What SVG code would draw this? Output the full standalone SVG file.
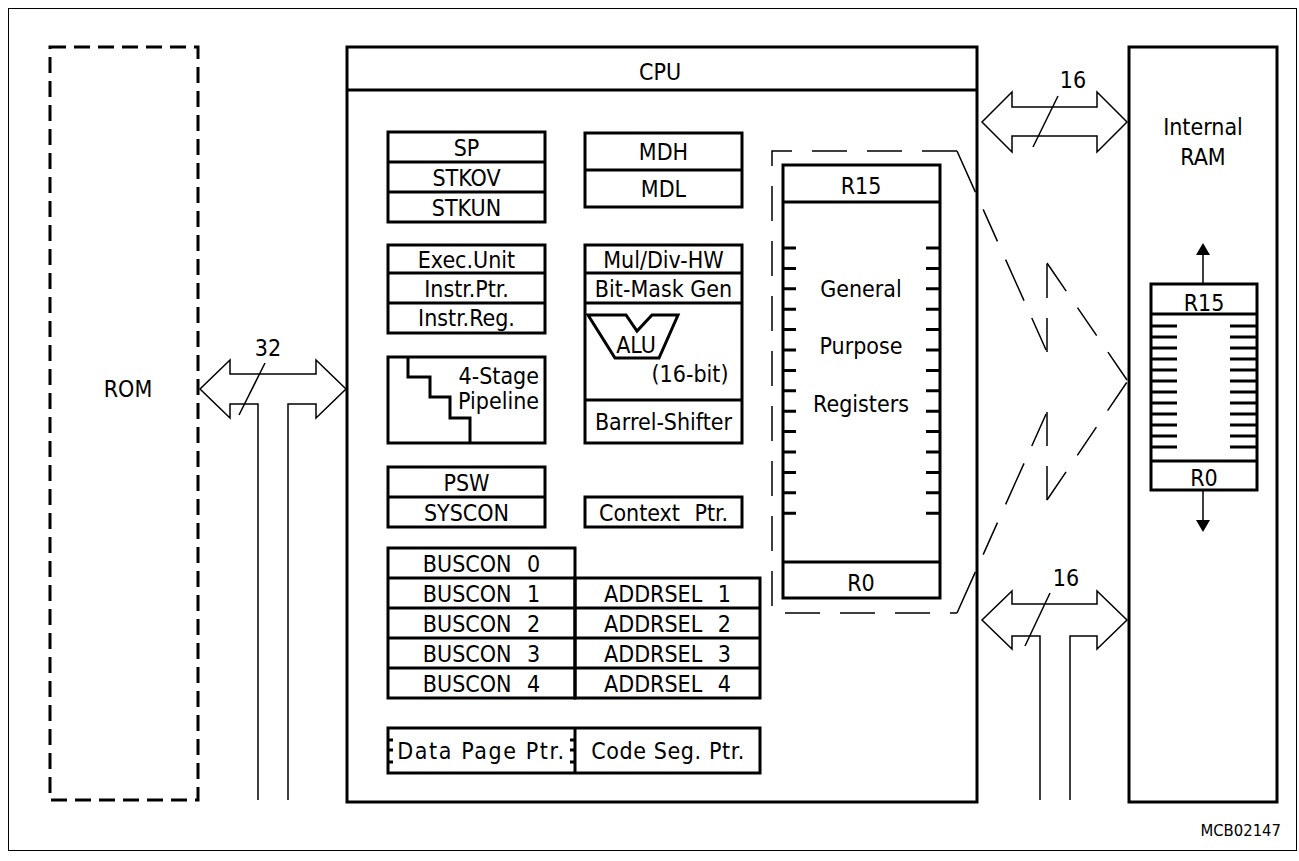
<svg xmlns="http://www.w3.org/2000/svg" width="1299" height="861" viewBox="0 0 1299 861">
<style>
.t{font-family:"DejaVu Sans Condensed","DejaVu Sans","Liberation Sans",sans-serif;font-stretch:condensed;font-size:23px;fill:#000;text-anchor:middle}
.s{font-size:16.5px}
.box{fill:none;stroke:#000;stroke-width:3}
.ln{fill:none;stroke:#000;stroke-width:3}
.thin{fill:none;stroke:#000;stroke-width:1.5}
.dash{fill:none;stroke:#000;stroke-width:1.5;stroke-dasharray:35 20}
.tick{stroke:#000;stroke-width:3}
</style>
<rect width="1299" height="861" fill="#fff"/>
<rect x="8.5" y="8.5" width="1288" height="842" fill="none" stroke="#000" stroke-width="1"/>

<g id="rom">
<rect x="50" y="47" width="148" height="753" fill="none" stroke="#000" stroke-width="3" stroke-dasharray="16 8"/>
<text class="t" x="128" y="397">ROM</text>
</g>

<g id="cpu">
<rect class="box" x="347" y="47" width="630" height="755"/>
<line class="ln" x1="347" y1="90" x2="977" y2="90"/>
<text class="t" x="660" y="80">CPU</text>
</g>

<g id="ram">
<rect class="box" x="1129" y="47" width="148" height="755"/>
<text class="t" x="1203" y="135">Internal</text>
<text class="t" x="1203" y="165">RAM</text>
</g>

<g id="sp">
<rect class="box" x="388" y="132" width="157" height="90"/>
<line class="ln" x1="388" y1="162" x2="545" y2="162"/>
<line class="ln" x1="388" y1="192" x2="545" y2="192"/>
<text class="t" x="466.5" y="156">SP</text>
<text class="t" x="466.5" y="186">STKOV</text>
<text class="t" x="466.5" y="216">STKUN</text>
</g>

<g id="md">
<rect class="box" x="585" y="133" width="157" height="74"/>
<line class="ln" x1="585" y1="170" x2="742" y2="170"/>
<text class="t" x="663.5" y="160">MDH</text>
<text class="t" x="663.5" y="197">MDL</text>
</g>

<g id="exec">
<rect class="box" x="388" y="245" width="157" height="88"/>
<line class="ln" x1="388" y1="273" x2="545" y2="273"/>
<line class="ln" x1="388" y1="303" x2="545" y2="303"/>
<text class="t" x="466.5" y="268">Exec.Unit</text>
<text class="t" x="466.5" y="297">Instr.Ptr.</text>
<text class="t" x="466.5" y="326">Instr.Reg.</text>
</g>

<g id="pipeline">
<rect class="box" x="388" y="357" width="157" height="86"/>
<path class="ln" d="M408,357 V377 H430 V397 H450 V418 H470 V443"/>
<text class="t" x="539" y="384" style="text-anchor:end">4-Stage</text>
<text class="t" x="539" y="409" style="text-anchor:end">Pipeline</text>
</g>

<g id="alu">
<rect class="box" x="585" y="245" width="157" height="198"/>
<line class="ln" x1="585" y1="273" x2="742" y2="273"/>
<line class="ln" x1="585" y1="303" x2="742" y2="303"/>
<line class="ln" x1="585" y1="400" x2="742" y2="400"/>
<text class="t" x="663.5" y="268">Mul/Div-HW</text>
<text class="t" x="663.5" y="297">Bit-Mask Gen</text>
<path class="ln" d="M588,315 H626 L637,331 L652,315 H678 L659,358 H615 Z" stroke-linejoin="miter"/>
<text class="t" x="636" y="353">ALU</text>
<text class="t" x="690" y="382">(16-bit)</text>
<text class="t" x="663.5" y="430">Barrel-Shifter</text>
</g>

<g id="psw">
<rect class="box" x="388" y="467" width="157" height="60"/>
<line class="ln" x1="388" y1="497" x2="545" y2="497"/>
<text class="t" x="466.5" y="491">PSW</text>
<text class="t" x="466.5" y="521">SYSCON</text>
</g>

<g id="context">
<rect class="box" x="585" y="497" width="157" height="30"/>
<text class="t" x="663.5" y="521" word-spacing="8">Context Ptr.</text>
</g>

<g id="buscon">
<rect class="box" x="388" y="548" width="187" height="150"/>
<line class="ln" x1="388" y1="578" x2="575" y2="578"/>
<line class="ln" x1="388" y1="608" x2="575" y2="608"/>
<line class="ln" x1="388" y1="638" x2="575" y2="638"/>
<line class="ln" x1="388" y1="668" x2="575" y2="668"/>
<text class="t" x="481.5" y="572" word-spacing="9">BUSCON 0</text>
<text class="t" x="481.5" y="602" word-spacing="9">BUSCON 1</text>
<text class="t" x="481.5" y="632" word-spacing="9">BUSCON 2</text>
<text class="t" x="481.5" y="662" word-spacing="9">BUSCON 3</text>
<text class="t" x="481.5" y="692" word-spacing="9">BUSCON 4</text>
</g>

<g id="addrsel">
<rect class="box" x="575" y="578" width="185" height="120"/>
<line class="ln" x1="575" y1="608" x2="760" y2="608"/>
<line class="ln" x1="575" y1="638" x2="760" y2="638"/>
<line class="ln" x1="575" y1="668" x2="760" y2="668"/>
<text class="t" x="667.5" y="602" word-spacing="9">ADDRSEL 1</text>
<text class="t" x="667.5" y="632" word-spacing="9">ADDRSEL 2</text>
<text class="t" x="667.5" y="662" word-spacing="9">ADDRSEL 3</text>
<text class="t" x="667.5" y="692" word-spacing="9">ADDRSEL 4</text>
</g>

<g id="ptrs">
<rect class="box" x="388" y="728" width="372" height="45"/>
<line class="ln" x1="575" y1="728" x2="575" y2="773"/>
<path class="tick" d="M388,740 h5 M388,750 h5 M388,762 h5 M575,740 h-5 M575,750 h-5 M575,762 h-5"/>
<text class="t" x="481.5" y="759" letter-spacing="1.6">Data Page Ptr.</text>
<text class="t" x="668" y="759" letter-spacing="0.6">Code Seg. Ptr.</text>
</g>

<g id="gpr">
<rect class="box" x="783" y="165" width="157" height="433"/>
<line class="ln" x1="783" y1="202" x2="940" y2="202"/>
<line class="ln" x1="783" y1="562" x2="940" y2="562"/>
<path class="tick" d="M783,248h13M783,268.4h13M783,288.8h13M783,309.2h13M783,329.6h13M783,350h13M783,370.4h13M783,390.8h13M783,411.2h13M783,431.6h13M783,452h13M783,472.4h13M783,492.8h13M783,513.2h13
M940,248h-14M940,268.4h-14M940,288.8h-14M940,309.2h-14M940,329.6h-14M940,350h-14M940,370.4h-14M940,390.8h-14M940,411.2h-14M940,431.6h-14M940,452h-14M940,472.4h-14M940,492.8h-14M940,513.2h-14"/>
<text class="t" x="861" y="194">R15</text>
<text class="t" x="861" y="297">General</text>
<text class="t" x="861" y="354">Purpose</text>
<text class="t" x="861" y="412">Registers</text>
<text class="t" x="861" y="591">R0</text>
</g>

<g id="ramregs">
<rect class="box" x="1151" y="284" width="106" height="206"/>
<line class="ln" x1="1151" y1="314" x2="1257" y2="314"/>
<line class="ln" x1="1151" y1="461" x2="1257" y2="461"/>
<path class="tick" d="M1151,326h26M1151,337h26M1151,348h26M1151,359h26M1151,370h26M1151,381h26M1151,392h26M1151,403h26M1151,414h26M1151,425h26M1151,436h26M1151,447h26
M1257,326h-27M1257,337h-27M1257,348h-27M1257,359h-27M1257,370h-27M1257,381h-27M1257,392h-27M1257,403h-27M1257,414h-27M1257,425h-27M1257,436h-27M1257,447h-27"/>
<text class="t" x="1204" y="311">R15</text>
<text class="t" x="1204" y="486">R0</text>
</g>

<g id="connectors">
<path class="thin" d="M258,800 V404 H230 V418 L200,389 L230,360 V374 H316 V360 L346,389 L316,418 V404 H288 V800"/>
<line class="thin" x1="265" y1="363" x2="239" y2="415"/>
<text class="t" x="268" y="356">32</text>

<path class="thin" d="M1012,107 V92 L982,122 L1012,152 V136 H1097 V152 L1127,122 L1097,92 V107 Z"/>
<line class="thin" x1="1058" y1="96" x2="1033" y2="147"/>
<text class="t" x="1073" y="88">16</text>

<path class="thin" d="M1040,800 V636 H1012 V649 L982,620 L1012,591 V604 H1097 V591 L1127,620 L1097,649 V636 H1070 V800"/>
<line class="thin" x1="1050" y1="593" x2="1025" y2="646"/>
<text class="t" x="1066" y="586">16</text>

<path class="dash" d="M957,151 H772 V613 H957"/>
<path class="thin" stroke-dasharray="45 19 35 20" d="M957,151 L1047,352"/>
<path class="thin" stroke-dasharray="34 20" d="M1047,352 V263"/>
<path class="thin" stroke-dasharray="34 20" d="M1047,263 L1127,380"/>
<path class="thin" stroke-dasharray="45 19 35 20" d="M957,613 L1047,412"/>
<path class="thin" stroke-dasharray="34 20" d="M1047,412 V500"/>
<path class="thin" stroke-dasharray="34 20" d="M1047,500 L1127,382"/>

<line class="thin" x1="1203" y1="284" x2="1203" y2="254"/>
<polygon points="1203,243 1196,255 1210,255" fill="#000"/>
<line class="thin" x1="1203" y1="490" x2="1203" y2="521"/>
<polygon points="1203,532 1196,520 1210,520" fill="#000"/>
</g>

<text class="t s" x="1281" y="836" style="text-anchor:end">MCB02147</text>
</svg>
